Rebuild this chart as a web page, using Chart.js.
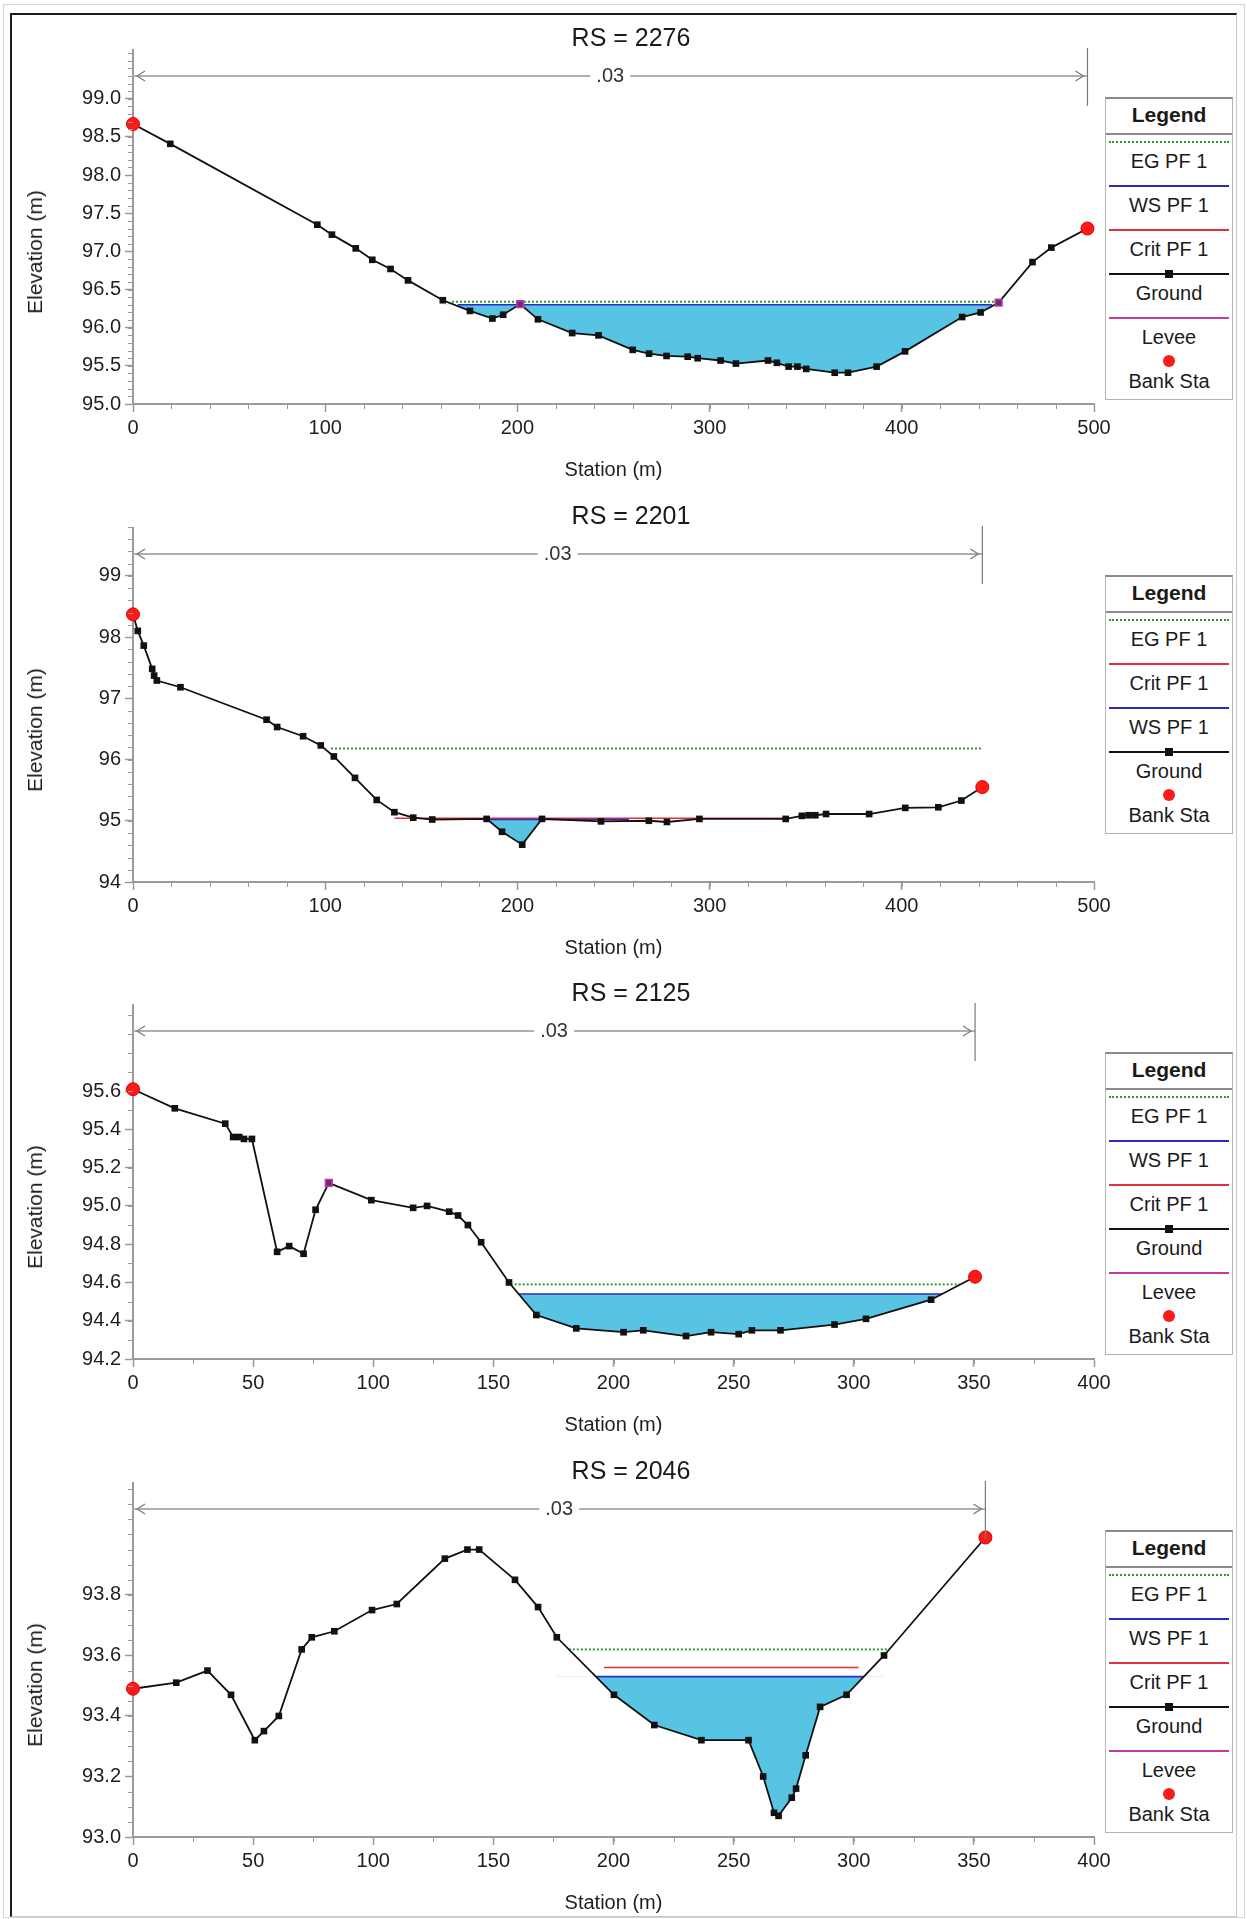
<!DOCTYPE html>
<html>
<head>
<meta charset="utf-8">
<title>Cross sections</title>
<script src="https://cdn.jsdelivr.net/npm/chart.js@4.4.1/dist/chart.umd.min.js"></script>
<style>
  body { margin: 0; background: #fff; font-family: Arial, "Liberation Sans", sans-serif; color: #1a1a1a; }
  #page { position: relative; width: 1247px; height: 1919px; overflow: hidden; }
  .outer { position: absolute; left: 3px; top: 4px; width: 1240px; height: 1912px; border: 1px solid #d4d4d4; }
  .frame { position: absolute; left: 10px; top: 13px; width: 1224px; height: 1901px;
           border-top: 2px solid #1c1c1c; border-left: 2px solid #1c1c1c;
           border-right: 1px solid #c8c8c8; border-bottom: 1px solid #c8c8c8; }
  .panel { position: absolute; left: 0; width: 1247px; height: 486px; }
  .panel canvas { position: absolute; left: 0; top: 0; }
  .rs { position: absolute; left: 0; top: 21px; width: 1262px; text-align: center; font-size: 25px; line-height: 32px; }
  .ytitle { position: absolute; left: 35px; top: 252px; font-size: 21px; white-space: nowrap;
            transform: translate(-50%, -50%) rotate(-90deg); }
  .legend { position: absolute; left: 1105px; top: 97px; width: 126px; background: #fff;
            border: 1px solid #b4b4b4; border-top: 2px solid #8a8a8a; }
  .lg-head { height: 34px; line-height: 32px; text-align: center; font-weight: bold; font-size: 21px;
             border-bottom: 2px solid #8a8a8a; }
  .lg-item { position: relative; height: 44px; }
  .lg-line { position: absolute; left: 3px; right: 3px; top: 6px; height: 0; }
  .lg-mark { position: absolute; left: 50%; }
  .lg-text { position: absolute; left: 0; right: 0; top: 14px; text-align: center; font-size: 20px; line-height: 24px; }
</style>
</head>
<body>
<div id="page">
  <div class="outer"></div>
  <div class="frame"></div>
</div>
<script>
// ---- data ----
const rsNames = ['2276', '2201', '2125', '2046'];

const sta2276 = [0, 19.4, 95.9, 103.5, 115.9, 124.5, 134, 143.1, 161.2, 175.3, 187, 192.6, 201.4, 210.7, 228.5, 242.2,
                 260, 268.5, 277.6, 288.6, 293.8, 305.7, 313.7, 330.4, 335, 341.1, 345.7, 350.3, 365.1, 372, 386.9,
                 401.7, 431.4, 441, 450.4, 468, 477.8, 496.6];
const elev2276 = [98.67, 98.41, 97.35, 97.22, 97.04, 96.89, 96.77, 96.62, 96.36, 96.22, 96.12, 96.17, 96.31, 96.11, 95.93, 95.90,
                  95.71, 95.66, 95.63, 95.62, 95.60, 95.57, 95.53, 95.57, 95.54, 95.49, 95.49, 95.46, 95.41, 95.41, 95.49,
                  95.69, 96.14, 96.20, 96.33, 96.86, 97.05, 97.30];

const sta2201 = [0, 2.5, 5.6, 10, 11, 12.4, 24.7, 69.5, 75, 88.5, 97.7, 104.5, 115.5, 126.8, 136, 145.8, 155.7, 184,
                 192, 202.5, 212.8, 243.5, 268.4, 277.8, 294.7, 339.6, 348, 351.5, 355, 360.6, 383, 401.8, 419, 431, 441.9];
const elev2201 = [98.37, 98.10, 97.86, 97.48, 97.37, 97.29, 97.18, 96.65, 96.53, 96.38, 96.23, 96.05, 95.70, 95.34, 95.14, 95.05, 95.02, 95.03,
                  94.82, 94.61, 95.03, 94.99, 95.00, 94.98, 95.03, 95.03, 95.08, 95.09, 95.09, 95.11, 95.11, 95.21, 95.22, 95.33, 95.55];

const sta2125 = [0, 17.4, 38.4, 41.7, 44.2, 46.2, 49.5, 60, 65, 71, 76, 81.5, 99.2, 116.6, 122.4, 131.6, 135.3,
                 139.4, 144.9, 156.5, 167.9, 184.5, 204.2, 212.4, 230.2, 240.6, 252.1, 257.6, 269.5, 292, 305.1, 332.2, 350.5];
const elev2125 = [95.61, 95.51, 95.43, 95.36, 95.36, 95.35, 95.35, 94.76, 94.79, 94.75, 94.98, 95.12, 95.03, 94.99, 95.00, 94.97, 94.95,
                  94.90, 94.81, 94.60, 94.43, 94.36, 94.34, 94.35, 94.32, 94.34, 94.33, 94.35, 94.35, 94.38, 94.41, 94.51, 94.63];

const sta2046 = [0, 18, 31, 40.8, 50.7, 54.5, 60.7, 70.2, 74.4, 83.8, 99.5, 109.8, 129.8, 139.2, 144.1, 159,
                 168.6, 176.4, 200.2, 217, 236.6, 256.2, 262.3, 266.8, 268.7, 274.2, 276, 280, 286, 297, 312.6, 354.8];
const elev2046 = [93.49, 93.51, 93.55, 93.47, 93.32, 93.35, 93.40, 93.62, 93.66, 93.68, 93.75, 93.77, 93.92, 93.95, 93.95, 93.85,
                  93.76, 93.66, 93.47, 93.37, 93.32, 93.32, 93.20, 93.08, 93.07, 93.13, 93.16, 93.27, 93.43, 93.47, 93.60, 93.99];

const stations = [sta2276, sta2201, sta2125, sta2046];
const elevations = [elev2276, elev2201, elev2125, elev2046];

// bank stations and levee stations (must be ground stations)
const bankSta = [[0, 496.6], [0, 441.9], [0, 350.5], [0, 354.8]];
const leveeSta = [[201.4, 450.4], [], [81.5], []];

// water surface, energy grade and critical depth lines: level, left station, right station
const wsLevel = [96.30, 95.02, 94.54, 93.53];
const wsLeft = [169, 184, 160.5, 192.7];
const wsRight = [447, 258, 337, 304.2];
const egLevel = [96.34, 96.18, 94.59, 93.62];
const egLeft = [166, 103, 157.2, 181.4];
const egRight = [449, 442, 344, 314.8];
const critLevel = [null, 95.04, null, 93.56];
const critLeft = [null, 136, null, 196];
const critRight = [null, 340, null, 302];
// ground stations that bound the wetted channel
const wetFrom = [161.2, 184, 156.5, 176.4];
const wetTo = [450.4, 212.8, 350.5, 312.6];

// axes
const xMax = [500, 500, 400, 400];
const xLabels = [
  ['0', '100', '200', '300', '400', '500'],
  ['0', '100', '200', '300', '400', '500'],
  ['0', '50', '100', '150', '200', '250', '300', '350', '400'],
  ['0', '50', '100', '150', '200', '250', '300', '350', '400']
];
const yMin = [95.0, 94, 94.2, 93.0];
const yMax = [99.64, 99.78, 96.05, 94.17];
const yLabels = [
  ['95.0', '95.5', '96.0', '96.5', '97.0', '97.5', '98.0', '98.5', '99.0'],
  ['94', '95', '96', '97', '98', '99'],
  ['94.2', '94.4', '94.6', '94.8', '95.0', '95.2', '95.4', '95.6'],
  ['93.0', '93.2', '93.4', '93.6', '93.8']
];
const xMinorStep = [20, 20, 25, 25];
const yMinorStep = [0.1, 0.2, 0.1, 0.05];

const legendNames = [
  ['EG PF 1', 'WS PF 1', 'Crit PF 1', 'Ground', 'Levee', 'Bank Sta'],
  ['EG PF 1', 'Crit PF 1', 'WS PF 1', 'Ground', 'Bank Sta'],
  ['EG PF 1', 'WS PF 1', 'Crit PF 1', 'Ground', 'Levee', 'Bank Sta'],
  ['EG PF 1', 'WS PF 1', 'Crit PF 1', 'Ground', 'Levee', 'Bank Sta']
];

const panelTop = [0, 478, 955, 1433];

// ---- styles ----
const FONT = 'Arial, "Liberation Sans", sans-serif';
const waterColor = 'rgb(88,196,228)';
const colEG = '#2f9a2f';
const colWS = '#2b2bc4';
const colCrit = '#e0303a';
const colLevee = '#c43aa8';
const axisColor = '#9a9a9a';

Chart.defaults.font.family = FONT;
Chart.defaults.color = '#1e1e1e';

// Manning's n bar along the top of each section
const mannLine = {
  id: 'mannLine',
  afterDatasetsDraw(chart, args, opts) {
    const {ctx, chartArea, scales: {x}} = chart;
    const x0 = x.getPixelForValue(0);
    const x1 = x.getPixelForValue(opts.end);
    const yy = chartArea.top + 26;
    ctx.save();
    ctx.strokeStyle = '#b0b0b0';
    ctx.lineWidth = 2;
    ctx.beginPath();
    ctx.moveTo(x0, yy);
    ctx.lineTo(x1, yy);
    ctx.stroke();

    ctx.strokeStyle = '#7a7a7a';
    ctx.lineWidth = 1.2;
    ctx.beginPath();
    ctx.moveTo(x0 + 12, yy - 5); ctx.lineTo(x0 + 4, yy); ctx.lineTo(x0 + 12, yy + 5);
    ctx.moveTo(x1 - 12, yy - 5); ctx.lineTo(x1 - 4, yy); ctx.lineTo(x1 - 12, yy + 5);
    ctx.moveTo(x1, chartArea.top - 2); ctx.lineTo(x1, chartArea.top + 56);
    ctx.stroke();

    ctx.font = '20px ' + FONT;
    const xm = (x0 + x1) / 2;
    const w = ctx.measureText(opts.text).width;
    ctx.fillStyle = '#fff';
    ctx.fillRect(xm - w / 2 - 6, yy - 11, w + 12, 22);
    ctx.fillStyle = '#333';
    ctx.textAlign = 'center';
    ctx.textBaseline = 'middle';
    ctx.fillText(opts.text, xm, yy);
    ctx.restore();
  }
};

// short minor ticks on both axes
const minorTicks = {
  id: 'minorTicks',
  afterDraw(chart, args, opts) {
    const {ctx, chartArea, scales: {x, y}} = chart;
    ctx.save();
    ctx.strokeStyle = axisColor;
    ctx.lineWidth = 1;
    ctx.beginPath();
    const ny = Math.round((y.max - y.min) / opts.yStep);
    for (let k = 0; k <= ny; k++) {
      const py = Math.round(y.getPixelForValue(y.min + k * opts.yStep)) + 0.5;
      ctx.moveTo(chartArea.left - 5, py);
      ctx.lineTo(chartArea.left, py);
    }
    const nx = Math.round(x.max / opts.xStep);
    for (let k = 0; k <= nx; k++) {
      const px = Math.round(x.getPixelForValue(k * opts.xStep)) + 0.5;
      ctx.moveTo(px, chartArea.bottom);
      ctx.lineTo(px, chartArea.bottom + 5);
    }
    ctx.stroke();
    ctx.restore();
  }
};

function flatLine(level, from, to){
  return [{x: from, y: level}, {x: to, y: level}];
}

function buildLegend(i, host){
  const box = document.createElement('div');
  box.className = 'legend';
  box.innerHTML = '<div class="lg-head">Legend</div>';
  legendNames[i].forEach(name => {
    let sample = '';
    if (name === 'EG PF 1') sample = `<div class="lg-line" style="border-top:2px dotted ${colEG}"></div>`;
    else if (name === 'WS PF 1') sample = `<div class="lg-line" style="border-top:2px solid ${colWS}"></div>`;
    else if (name === 'Crit PF 1') sample = `<div class="lg-line" style="border-top:2px solid ${colCrit}"></div>`;
    else if (name === 'Levee') sample = `<div class="lg-line" style="border-top:2px solid ${colLevee}"></div>`;
    else if (name === 'Ground') sample = `<div class="lg-line" style="border-top:2px solid #111"></div>` +
      `<div class="lg-mark" style="top:3px;width:8px;height:8px;margin-left:-4px;background:#111"></div>`;
    else if (name === 'Bank Sta') sample =
      `<div class="lg-mark" style="top:0px;width:12px;height:12px;margin-left:-6px;border-radius:50%;background:#ff1a1a"></div>`;
    box.innerHTML += `<div class="lg-item">${sample}<div class="lg-text">${name}</div></div>`;
  });
  host.appendChild(box);
}

function buildPanel(i){
  const page = document.getElementById('page');
  const panel = document.createElement('div');
  panel.className = 'panel';
  panel.style.top = panelTop[i] + 'px';
  panel.innerHTML = `<canvas width="1247" height="486"></canvas>` +
    `<div class="rs">RS = ${rsNames[i]}</div>` +
    `<div class="ytitle">Elevation (m)</div>`;
  page.appendChild(panel);
  buildLegend(i, panel);

  const sta = stations[i];
  const elev = elevations[i];
  const ground = sta.map((s, k) => ({x: s, y: elev[k]}));
  const banks = bankSta[i].map(s => ({x: s, y: elev[sta.indexOf(s)]}));
  const levees = leveeSta[i].map(s => ({x: s, y: elev[sta.indexOf(s)]}));
  const wet = ground.filter(p => p.x >= wetFrom[i] && p.x <= wetTo[i]);

  const datasets = [
    {label: 'Bank Sta', data: banks, showLine: false, pointStyle: 'circle', pointRadius: 6.5,
     pointBackgroundColor: '#ff1a1a', pointBorderColor: '#e00000', pointBorderWidth: 1, order: 0, clip: false},
    {label: 'Levee', data: levees, showLine: false, pointStyle: 'rect', pointRadius: 4.8,
     pointBackgroundColor: '#6a2a7a', pointBorderColor: colLevee, pointBorderWidth: 1.5, order: 1, clip: false},
    {label: 'Ground', data: ground, borderColor: '#111', borderWidth: 1.8, pointStyle: 'rect', pointRadius: 4.7,
     pointBackgroundColor: '#111', pointBorderWidth: 0, order: 2, clip: false},
    {label: 'WS PF 1', data: flatLine(wsLevel[i], wsLeft[i], wsRight[i]), borderColor: colWS, borderWidth: 1.6,
     pointRadius: 0, order: 3},
    {label: 'EG PF 1', data: flatLine(egLevel[i], egLeft[i], egRight[i]), borderColor: colEG, borderWidth: 2,
     borderDash: [2, 2], pointRadius: 0, order: 5},
    {label: 'water', data: wet, borderColor: 'rgba(0,0,0,0)', borderWidth: 0, pointRadius: 0, order: 6,
     fill: {target: {value: wsLevel[i]}, above: 'rgba(255,255,255,0)', below: waterColor}}
  ];
  if (critLevel[i] !== null) {
    datasets.push({label: 'Crit PF 1', data: flatLine(critLevel[i], critLeft[i], critRight[i]), borderColor: colCrit,
                   borderWidth: 1.4, pointRadius: 0, order: 4});
  }

  const xVals = xLabels[i].map(Number);
  const yVals = yLabels[i].map(Number);

  new Chart(panel.querySelector('canvas'), {
    type: 'line',
    data: {datasets: datasets},
    options: {
      responsive: false,
      animation: false,
      events: [],
      layout: {padding: {left: 0, right: 153, top: 50, bottom: 4}},
      plugins: {
        legend: {display: false},
        tooltip: {enabled: false},
        mannLine: {end: bankSta[i][1], text: '.03'},
        minorTicks: {xStep: xMinorStep[i], yStep: yMinorStep[i]}
      },
      scales: {
        x: {
          type: 'linear', min: 0, max: xMax[i],
          afterBuildTicks: s => { s.ticks = xVals.map(v => ({value: v})); },
          afterFit: s => { s.height = 78; },
          grid: {drawOnChartArea: false, tickLength: 8, tickColor: axisColor, tickWidth: 1.5},
          border: {color: axisColor, width: 2},
          ticks: {autoSkip: false, maxRotation: 0, padding: 4, font: {size: 20},
                  callback: (v, k) => xLabels[i][k]},
          title: {display: true, text: 'Station (m)', font: {size: 20}, color: '#1e1e1e', padding: {top: 0, bottom: 0}}
        },
        y: {
          type: 'linear', min: yMin[i], max: yMax[i],
          afterBuildTicks: s => { s.ticks = yVals.map(v => ({value: v})); },
          afterFit: s => { s.width = 133; },
          grid: {drawOnChartArea: false, tickLength: 8, tickColor: axisColor, tickWidth: 1.5},
          border: {color: axisColor, width: 2},
          ticks: {autoSkip: false, padding: 4, font: {size: 20},
                  callback: (v, k) => yLabels[i][k]}
        }
      }
    },
    plugins: [mannLine, minorTicks]
  });
}

rsNames.forEach((rs, i) => buildPanel(i));
</script>
</body>
</html>
